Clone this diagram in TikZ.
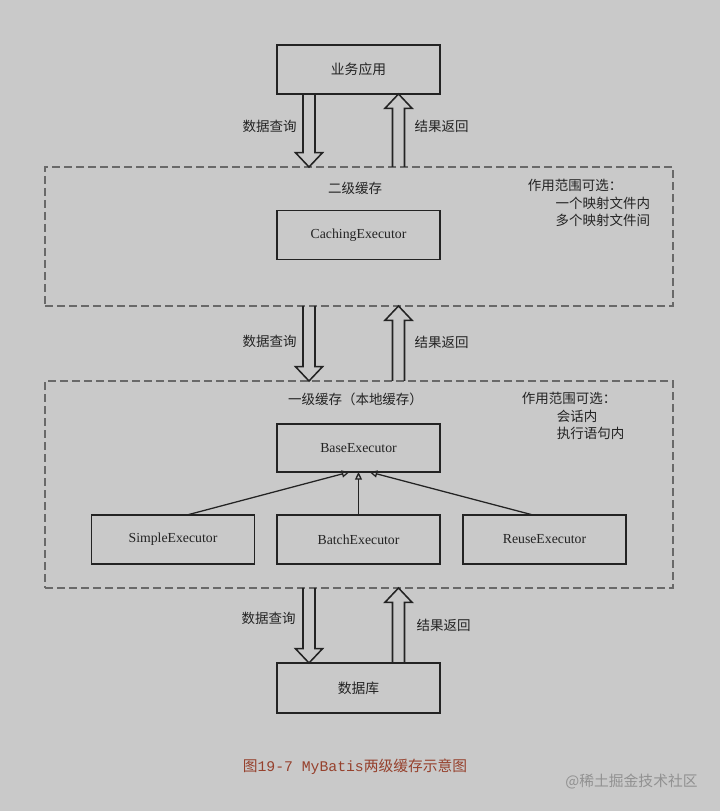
\documentclass[tikz,border=0pt]{standalone}
\usepackage{fontspec}
\setmainfont{Liberation Serif}
\newfontfamily\cjk{Noto Sans CJK SC}
\newfontfamily\capmono{Liberation Mono}
\usetikzlibrary{arrows.meta,positioning,calc}
\definecolor{bggray}{RGB}{201,201,201}
\definecolor{inkgray}{RGB}{35,35,35}
\definecolor{dashgray}{RGB}{105,105,105}
\definecolor{capred}{RGB}{150,65,45}
\definecolor{markgray}{RGB}{145,145,145}

% hollow block arrow between two points on a vertical line
\newcommand{\blockarr}[2]{%
  \draw[blockarrow] let \p1=(#1), \p2=(#2), \p3=($(#2)!0.36cm!(#1)$) in
    (\x1-0.15cm,\y1) -- (\x1-0.15cm,\y3) -- (\x1-0.34cm,\y3) -- (\x2,\y2)
    -- (\x1+0.34cm,\y3) -- (\x1+0.15cm,\y3) -- (\x1+0.15cm,\y1);}

\begin{document}
\begin{tikzpicture}[
  every node/.style={font=\cjk\fontsize{9.6}{12.1}\selectfont, text=inkgray},
  cls/.style={draw=inkgray, line width=1.4pt, minimum width=4.075cm,
              minimum height=1.225cm, outer sep=0pt,
              font=\fontsize{9.8}{12}\selectfont},
  layer/.style={draw=dashgray, line width=1.1pt, dash pattern=on 0.2cm off 0.1cm,
                minimum width=15.7cm, outer sep=0pt},
  blockarrow/.style={draw=inkgray, line width=1.1pt, line join=miter},
  inherit/.style={-{Triangle[open, length=5.5pt, width=5pt]}, draw=inkgray,
                  line width=0.9pt},
]

%% ── Canvas ───────────────────────────────────────────────────────────────────
\fill[bggray] (0,0) rectangle (18,20.275);

%% ── Application ──────────────────────────────────────────────────────────────
\node[cls] (app) at (8.9625,18.5375) {\cjk 业务应用};

%% ── Second-level cache ───────────────────────────────────────────────────────
\node[layer, minimum height=3.475cm] (l2box) at (8.975,14.3625) {};
\node (l2name) at (8.875,15.575) {二级缓存};
\node[cls] (caching) at (8.9625,14.4) {CachingExecutor};
\node[anchor=west] (scope2) at (13.075,15.65) {作用范围可选：};
\node[anchor=east, align=right] (scope2list) at (16.375,14.99)
  {一个映射文件内\\多个映射文件间};

%% ── First-level cache ────────────────────────────────────────────────────────
\node[layer, minimum height=5.175cm] (l1box) at (8.975,8.1625) {};
\node (l1name) at (8.8875,10.3) {一级缓存（本地缓存）};
\node[anchor=west] (scope1) at (12.925,10.325) {作用范围可选：};
\node[anchor=west, align=left] (scope1list) at (13.8,9.6625)
  {会话内\\执行语句内};

\node[cls, minimum height=1.2cm] (base) at (8.9625,9.075) {BaseExecutor};
\node[cls] (simple) at (4.325,6.7875) {SimpleExecutor};
\node[cls] (batch)  at (8.9625,6.7875) {BatchExecutor};
\node[cls] (reuse)  at (13.6125,6.7875) {ReuseExecutor};

% subclasses -> BaseExecutor
\draw[inherit] ($(simple.north)+(0.35,0)$) -- ($(base.south)+(-0.225,0)$);
\draw[inherit] (batch.north) -- (base.south);
\draw[inherit] ($(reuse.north)+(-0.2875,0)$) -- ($(base.south)+(0.275,0)$);

%% ── Database ─────────────────────────────────────────────────────────────────
\node[cls, minimum height=1.25cm] (db) at (8.9625,3.075) {\cjk 数据库};

%% ── Query / result arrows ────────────────────────────────────────────────────
\coordinate (qx) at ($(app.south)+(-1.2375,0)$);
\coordinate (rx) at ($(app.south)+(1.0,0)$);

% query (down)
\blockarr{qx}{qx |- l2box.north}
\blockarr{qx |- l2box.south}{qx |- l1box.north}
\blockarr{qx |- l1box.south}{qx |- db.north}
% result (up)
\blockarr{rx |- l2box.north}{rx}
\blockarr{rx |- l1box.north}{rx |- l2box.south}
\blockarr{rx |- db.north}{rx |- l1box.south}

\node (ask1) at (6.7375,17.125) {数据查询};
\node (ret1) at (11.0375,17.125) {结果返回};
\node (ask2) at (6.7375,11.75) {数据查询};
\node (ret2) at (11.0375,11.725) {结果返回};
\node (ask3) at (6.7125,4.825) {数据查询};
\node (ret3) at (11.0875,4.65) {结果返回};

%% ── Caption ──────────────────────────────────────────────────────────────────
\node[text=capred, font=\fontsize{10.5}{12}\selectfont] (caption) at (8.875,1.1)
  {\cjk 图\capmono 19-7 MyBatis\cjk 两级缓存示意图};
\node[text=markgray, font=\cjk\fontsize{10.5}{12}\selectfont] (mark) at (15.7875,0.725)
  {@稀土掘金技术社区};

\end{tikzpicture}
\end{document}
